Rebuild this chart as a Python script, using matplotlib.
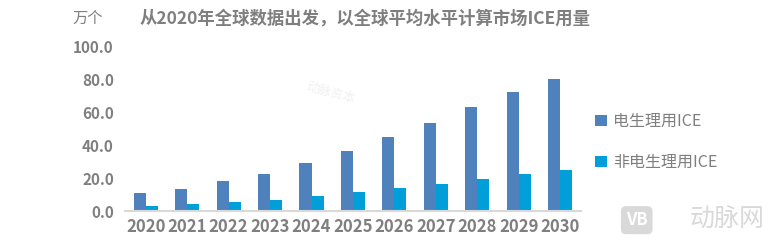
import numpy as np
import matplotlib.pyplot as plt

plt.rcParams['font.family'] = ['Noto Sans CJK SC', 'DejaVu Sans']

years = ['2020', '2021', '2022', '2023', '2024', '2025', '2026', '2027', '2028', '2029', '2030']
ep_ice = [11.2, 13.6, 18.3, 22.7, 29.3, 36.6, 45.0, 53.7, 63.4, 72.6, 80.5]
non_ep_ice = [3.0, 4.3, 5.5, 6.7, 9.1, 11.6, 14.2, 16.5, 19.5, 22.6, 25.0]
yticks = [0, 20, 40, 60, 80, 100]

gray = '#7f7f7f'
fig = plt.figure(figsize=(7.69, 2.46), dpi=100)
ax = fig.add_axes([0.1625, 0.142, 0.593, 0.667])

x = np.arange(len(years))
w = 0.29
ax.bar(x - w / 2, ep_ice, w, color='#4f81bd', label='电生理用ICE')
ax.bar(x + w / 2, non_ep_ice, w, color='#009fda', label='非电生理用ICE')

ax.set_xlim(-0.5, len(years) - 0.5)
ax.set_ylim(0, 100)
ax.set_yticks(yticks)
ax.set_yticklabels(['%.1f' % v for v in yticks], fontsize=11, fontweight='bold', color=gray)
ax.set_xticks(x)
ax.set_xticklabels(years, fontsize=12, fontweight='bold', color=gray)
ax.tick_params(axis='y', length=0, pad=8)
ax.tick_params(axis='x', length=0, pad=5)
for s in ['top', 'right', 'left']:
    ax.spines[s].set_visible(False)
ax.spines['bottom'].set_color('#d9d9d9')
ax.spines['bottom'].set_linewidth(1.5)

fig.text(0.094, 0.925, '万个', fontsize=11, color=gray, va='center')
fig.text(0.181, 0.925, '从2020年全球数据出发，以全球平均水平计算市场ICE用量',
         fontsize=12.5, fontweight='bold', color=gray, va='center')

leg = ax.legend(loc='center left', bbox_to_anchor=(1.0, 0.42), frameon=False,
                fontsize=11.5, labelcolor=gray, handlelength=0.7, handleheight=0.7,
                labelspacing=1.5, handletextpad=0.4)

# watermarks
fig.text(0.43, 0.62, '动脉资本', fontsize=9, color='#f0f0f0', rotation=-15, ha='center', va='center')
fig.text(0.945, 0.105, '动脉网', fontsize=18, color='#d9d9d9', ha='center', va='center')
fig.text(0.828, 0.105, 'VB', fontsize=12, fontweight='bold', color='white', ha='center', va='center',
         bbox=dict(boxstyle='round,pad=0.3', fc='#d9d9d9', ec='none'))

fig.savefig('out.png', dpi=100)
